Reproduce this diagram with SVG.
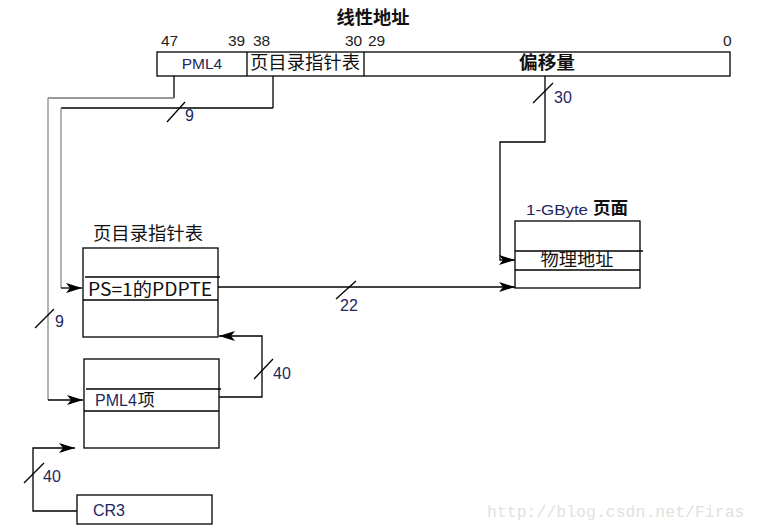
<svg xmlns="http://www.w3.org/2000/svg" width="758" height="531" viewBox="0 0 758 531">
<style>
.bx{fill:#fff;stroke:#000;stroke-width:1.3}
.ln{stroke:#000;stroke-width:1.3;fill:none}
.gl{stroke:#a0a0a0;stroke-width:1.6;fill:none}
.cn{font-family:"Noto Sans CJK SC","Noto Sans",sans-serif;fill:#111}
.b{font-weight:bold}
.la{font-family:"Liberation Sans",Arial,sans-serif;fill:#1e2660}
.num{font-family:"Liberation Sans",Arial,sans-serif;font-size:15.5px;fill:#222}
.wm{font-family:"Liberation Mono",monospace;font-size:16.5px;fill:#e2e2de}
</style>
<defs>
<marker id="ah" markerUnits="userSpaceOnUse" markerWidth="16" markerHeight="10" refX="16" refY="5" orient="auto">
<path d="M0,0 L16,5 L0,10 L4,5 z" fill="#000"/>
</marker>
</defs>
<rect width="758" height="531" fill="#fff"/>

<g id="linear-address">
<text class="cn b" x="373" y="24" font-size="18" text-anchor="middle" textLength="73" lengthAdjust="spacingAndGlyphs">线性地址</text>
<text class="num" x="161" y="46">47</text>
<text class="num" x="228" y="46">39</text>
<text class="num" x="253" y="46">38</text>
<text class="num" x="345" y="46">30</text>
<text class="num" x="368" y="46">29</text>
<text class="num" x="723" y="46">0</text>
<rect class="bx" x="157" y="52" width="573" height="24"/>
<line class="ln" x1="247" y1="52" x2="247" y2="76"/>
<line class="ln" x1="364" y1="52" x2="364" y2="76"/>
<text class="la" x="202" y="69" font-size="15.5" text-anchor="middle">PML4</text>
<text class="cn" x="305" y="69" font-size="18" text-anchor="middle" textLength="110" lengthAdjust="spacingAndGlyphs">页目录指针表</text>
<text class="cn b" x="547" y="69" font-size="18" text-anchor="middle" textLength="56" lengthAdjust="spacingAndGlyphs">偏移量</text>
</g>

<g id="pdpt">
<text class="cn" x="148" y="240" font-size="18" text-anchor="middle" textLength="110" lengthAdjust="spacingAndGlyphs">页目录指针表</text>
<rect class="bx" x="83" y="248" width="135" height="89"/>
<line class="ln" x1="85" y1="277" x2="220" y2="277"/>
<line class="ln" x1="83" y1="300" x2="218" y2="300"/>
<text class="cn" x="88" y="296" font-size="18" textLength="124" lengthAdjust="spacingAndGlyphs">PS=1的PDPTE</text>
</g>

<g id="pml4">
<rect class="bx" x="84" y="359" width="135" height="89"/>
<line class="ln" x1="86" y1="389" x2="221" y2="389"/>
<line class="ln" x1="84" y1="411" x2="219" y2="411"/>
<text class="la" x="95" y="406" font-size="16">PML4<tspan class="cn" font-size="17" dx="1">项</tspan></text>
</g>

<g id="cr3">
<rect class="bx" x="77" y="495" width="135" height="29"/>
<text class="la" x="93" y="516" font-size="16">CR3</text>
</g>

<g id="page">
<text class="la" x="526" y="215" font-size="14.5" textLength="62" lengthAdjust="spacingAndGlyphs">1-GByte</text>
<text class="cn b" x="593" y="214" font-size="17.5" textLength="35" lengthAdjust="spacingAndGlyphs">页面</text>
<rect class="bx" x="515" y="221" width="125" height="67"/>
<line class="ln" x1="515" y1="251" x2="643" y2="251"/>
<line class="ln" x1="515" y1="270" x2="640" y2="270"/>
<text class="cn" x="577" y="266" font-size="18" text-anchor="middle" textLength="73" lengthAdjust="spacingAndGlyphs">物理地址</text>
</g>

<g id="connectors">
<line class="ln" x1="174" y1="76" x2="174" y2="98"/>
<line x1="174" y1="98" x2="48" y2="98" stroke="#777" stroke-width="1.4"/>
<line class="gl" x1="48" y1="98" x2="48" y2="400"/>
<line class="ln" x1="48" y1="400" x2="83" y2="400" marker-end="url(#ah)"/>
<line class="ln" x1="35" y1="328" x2="54" y2="309"/>
<text class="la" x="55" y="327" font-size="16">9</text>
<line class="ln" x1="273" y1="76" x2="273" y2="108"/>
<line class="ln" x1="273" y1="108" x2="61" y2="108"/>
<line class="gl" x1="61" y1="108" x2="61" y2="288"/>
<line class="ln" x1="61" y1="288" x2="82" y2="288" marker-end="url(#ah)"/>
<line class="ln" x1="167" y1="122" x2="185" y2="102"/>
<text class="la" x="185" y="121" font-size="16">9</text>
<polyline class="ln" points="545,76 545,142 500,142 500,260 515,260" marker-end="url(#ah)"/>
<line class="ln" x1="533" y1="103" x2="553" y2="83"/>
<text class="la" x="554" y="103" font-size="16">30</text>
<line class="ln" x1="218" y1="287" x2="515" y2="287" marker-end="url(#ah)"/>
<line class="ln" x1="336" y1="299" x2="356" y2="281"/>
<text class="la" x="340" y="311" font-size="16">22</text>
<polyline class="ln" points="219,397 262,397 262,336 219,336" marker-end="url(#ah)"/>
<line class="ln" x1="254" y1="379" x2="273" y2="359"/>
<text class="la" x="273" y="379" font-size="16">40</text>
<polyline class="ln" points="77,511 33,511 33,448 75,448" marker-end="url(#ah)"/>
<line class="ln" x1="24" y1="483" x2="44" y2="463"/>
<text class="la" x="43" y="482" font-size="16">40</text>
</g>

<text class="wm" x="487" y="517">http://blog.csdn.net/Firas</text>
</svg>
